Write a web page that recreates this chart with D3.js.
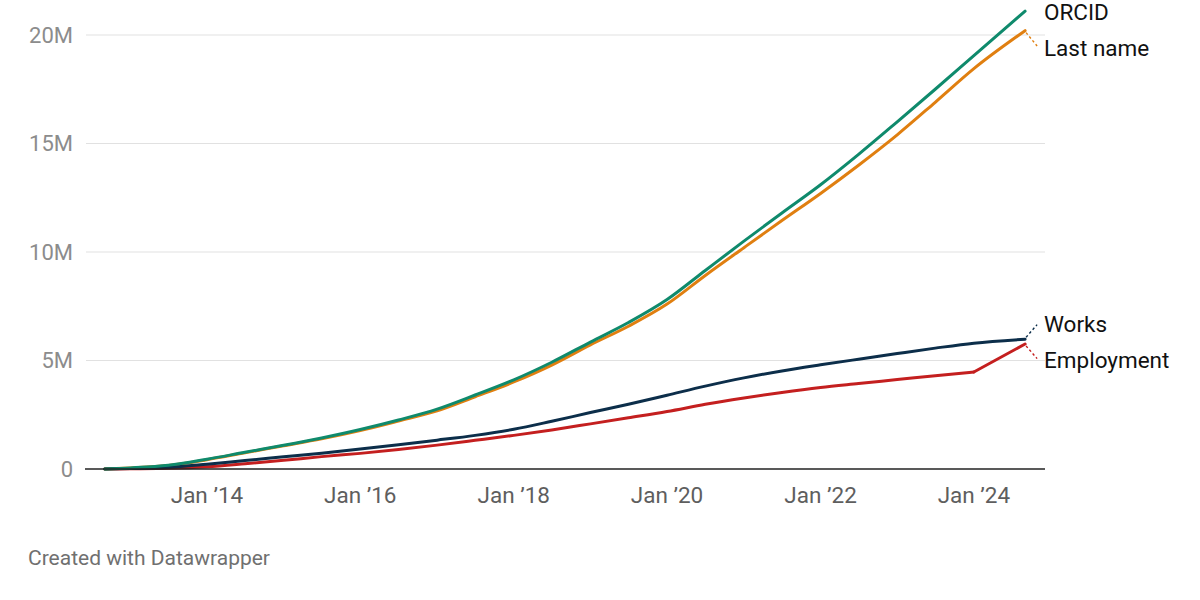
<!DOCTYPE html>
<html>
<head>
<meta charset="utf-8">
<script src="https://cdn.jsdelivr.net/npm/d3@7"></script>
<style>
  html, body { margin: 0; padding: 0; background: #fff; }
  svg { display: block; font-family: Roboto, "Noto Sans", sans-serif; }
</style>
</head>
<body>
<svg id="chart" width="1200" height="600"></svg>
<script>
// ---- data ----
const dates = ["2012-09-01","2013-01-01","2013-07-01","2014-01-01","2014-07-01","2015-01-01","2015-07-01",
  "2016-01-01","2016-07-01","2017-01-01","2017-07-01","2018-01-01","2018-07-01","2019-01-01","2019-07-01",
  "2020-01-01","2020-07-01","2021-01-01","2021-07-01","2022-01-01","2022-07-01","2023-01-01","2023-07-01",
  "2024-01-01","2024-09-01"];
const orcid      = [0,0.05,0.17,0.45,0.77,1.09,1.43,1.82,2.26,2.76,3.41,4.11,4.92,5.85,6.75,7.81,9.15,10.5,11.8,13.1,14.5,16.0,17.5,19.05,21.1];
const lastName   = [0,0.05,0.16,0.43,0.75,1.07,1.39,1.77,2.21,2.68,3.33,4.01,4.79,5.72,6.58,7.6,8.92,10.2,11.45,12.7,14.0,15.4,16.9,18.45,20.2];
const works      = [0,0.02,0.07,0.22,0.39,0.56,0.73,0.92,1.12,1.33,1.55,1.83,2.2,2.6,2.98,3.4,3.82,4.2,4.52,4.8,5.06,5.32,5.57,5.8,5.98];
const employment = [0,0.01,0.03,0.1,0.24,0.4,0.57,0.72,0.9,1.1,1.32,1.55,1.8,2.08,2.36,2.65,2.98,3.27,3.53,3.76,3.94,4.12,4.3,4.47,5.76];
const seriesNames  = ["ORCID","Last name","Works","Employment"];
const seriesColors = ["#0f8a6c","#e07f10","#0c2e4a","#c41f1f"];
// date after which a series changes course sharply (sharp corner kept)
const seriesBreaks = [null, null, null, "2024-01-01"];
const yTicks = [0, 5, 10, 15, 20];
const yTickLabels = ["0","5M","10M","15M","20M"];
const xTickYears = [2014, 2016, 2018, 2020, 2022, 2024];
const footer = "Created with Datawrapper";

// ---- layout ----
const svg = d3.select("#chart");
const parse = d3.timeParse("%Y-%m-%d");
const dts = dates.map(parse);
const x = d3.scaleTime().domain([dts[0], dts[dts.length - 1]]).range([104.7, 1025.1]);
const y = d3.scaleLinear().domain([0, 20]).range([469, 35]);
const gridLeft = 86, gridRight = 1045;

// gridlines
const grid = svg.append("g");
grid.selectAll("line").data(yTicks.filter(d => d > 0)).join("line")
  .attr("x1", gridLeft).attr("x2", gridRight)
  .attr("y1", d => y(d)).attr("y2", d => y(d))
  .attr("stroke", "#e1e1e1").attr("stroke-width", 1);

// y labels
svg.append("g").selectAll("text").data(yTicks).join("text")
  .attr("x", 73).attr("y", d => y(d)).attr("dy", "0.35em")
  .attr("text-anchor", "end").attr("fill", "#8c8c8c")
  .style("font-size", "22px")
  .text((d, i) => yTickLabels[i]);

// x labels
const fmt = d => "Jan \u2019" + String(d).slice(2);
svg.append("g").selectAll("text").data(xTickYears).join("text")
  .attr("x", d => x(new Date(d, 0, 1))).attr("y", 503)
  .attr("text-anchor", "middle").attr("fill", "#5e5e5e")
  .style("font-size", "22.5px")
  .text(fmt);

// series
const allSeries = [orcid, lastName, works, employment];
const line = d3.line().x(d => x(d.date)).y(d => y(d.v)).curve(d3.curveMonotoneX);
const seriesG = svg.append("g");
// draw in order so ORCID is on top of Last name, Works on top of Employment
[3, 1, 2, 0].forEach(k => {
  const pts = allSeries[k].map((v, i) => ({ date: dts[i], v }));
  let parts = [pts];
  if (seriesBreaks[k]) {
    const bi = dates.indexOf(seriesBreaks[k]);
    parts = [pts.slice(0, bi + 1), pts.slice(bi)];
  }
  parts.forEach(p => {
    seriesG.append("path").datum(p)
      .attr("d", line).attr("fill", "none")
      .attr("stroke", seriesColors[k]).attr("stroke-width", 3)
      .attr("stroke-linejoin", "round").attr("stroke-linecap", "round");
  });
});

// baseline
svg.append("line").attr("x1", 85).attr("x2", gridRight)
  .attr("y1", y(0)).attr("y2", y(0))
  .attr("stroke", "#222").attr("stroke-width", 1.6);

// labels with collision avoidance
const last = dts[dts.length - 1];
const ends = allSeries.map((s, i) => ({ i, yEnd: y(s[s.length - 1]), yl: y(s[s.length - 1]) }));
const sorted = ends.slice().sort((a, b) => a.yEnd - b.yEnd);
const minGap = 36, minY = 11;
for (let it = 0; it < 200; it++) {
  for (let j = 0; j < sorted.length - 1; j++) {
    const a = sorted[j], b = sorted[j + 1];
    const ov = minGap - (b.yl - a.yl);
    if (ov > 0) { a.yl -= ov / 2; b.yl += ov / 2; }
  }
  sorted.forEach(s => { if (s.yl < minY) s.yl = minY; });
}
const xEnd = x(last);
ends.forEach(e => {
  if (Math.abs(e.yl - e.yEnd) > 4) {
    const dir = Math.sign(e.yl - e.yEnd);
    svg.append("line")
      .attr("x1", xEnd + 1).attr("y1", e.yEnd + dir * 2)
      .attr("x2", xEnd + 12).attr("y2", e.yl - dir * 1)
      .attr("stroke", seriesColors[e.i]).attr("stroke-width", 1.4)
      .attr("stroke-dasharray", "2.5,2.5");
  }
  svg.append("text").attr("x", 1044).attr("y", e.yl + 1).attr("dy", "0.35em")
    .attr("fill", "#111").style("font-size", "22.5px")
    .text(seriesNames[e.i]);
});

// footer
svg.append("text").attr("x", 28).attr("y", 565)
  .attr("fill", "#707070").style("font-size", "21px")
  .text(footer);
</script>
</body>
</html>
